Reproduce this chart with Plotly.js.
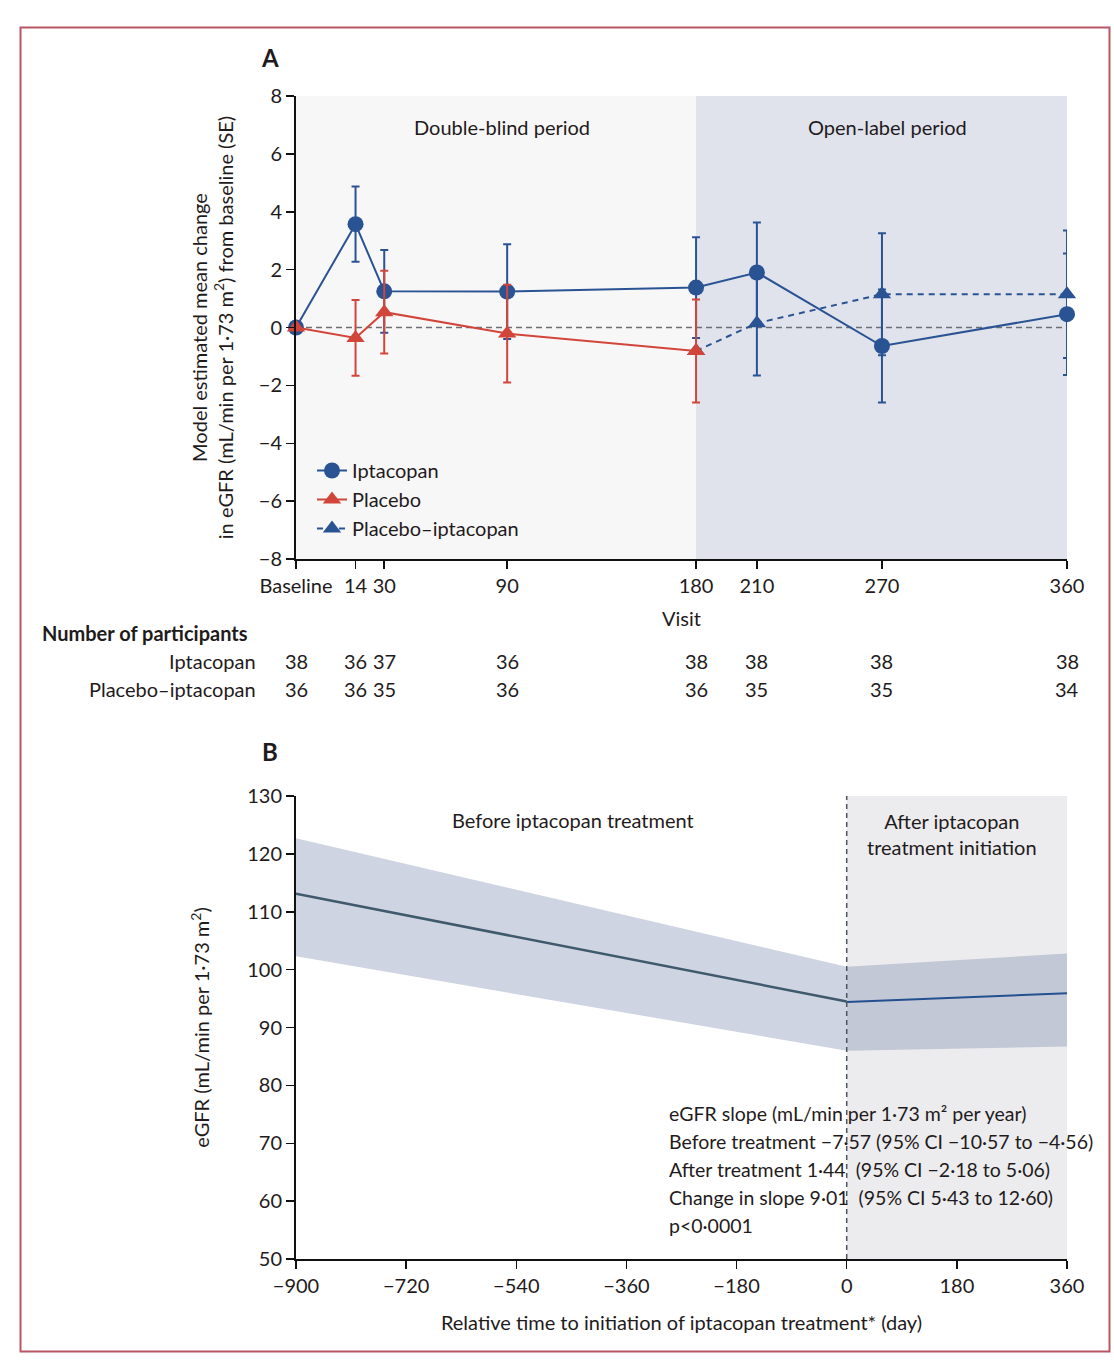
<!DOCTYPE html>
<html>
<head>
<meta charset="utf-8">
<script src="https://cdn.plot.ly/plotly-3.0.1.min.js"></script>
<style>
  html, body { margin: 0; padding: 0; background: #ffffff; }
  #chart { width: 1114px; height: 1372px; }
</style>
</head>
<body>
<div id="chart"></div>
<script>
// ---------- Panel A data ----------
const visitLabels = ['Baseline', '14', '30', '90', '180', '210', '270', '360'];
// horizontal positions of the visits on panel A's axis (as spaced in the original)
const visitPos = [0, 27.8, 41.2, 98.6, 186.8, 215.2, 273.6, 360];

const iptacopanMean = [0, 3.57, 1.25, 1.24, 1.38, 1.90, -0.64, 0.46];
const iptacopanSE   = [0, 1.30, 1.43, 1.64, 1.74, 1.73, 1.95, 2.10];

const placeboIdx  = [0, 1, 2, 3, 4];
const placeboMean = [0, -0.36, 0.53, -0.21, -0.81];
const placeboSE   = [0, 1.31, 1.43, 1.69, 1.78];

const placeboIptIdx  = [4, 5, 6, 7];
const placeboIptMean = [-0.81, 0.15, 1.15, 1.15];
const placeboIptSE   = [0, 1.81, 2.11, 2.20];

const nIptacopan  = [38, 36, 37, 36, 38, 38, 38, 38];
const nPlaceboIpt = [36, 36, 35, 36, 36, 35, 35, 34];

// ---------- Panel B data ----------
const timeBefore  = [-900, 0];
const fitBefore   = [113.1, 94.5];
const upperBefore = [122.7, 100.5];
const lowerBefore = [102.3, 86.0];

const timeAfter  = [0, 360];
const fitAfter   = [94.4, 95.9];
const upperAfter = [100.5, 102.8];
const lowerAfter = [86.0, 86.7];

const statsLines = [
  'eGFR slope (mL/min per 1·73 m² per year)',
  'Before treatment −7·57 (95% CI −10·57 to −4·56)',
  'After treatment 1·44  (95% CI −2·18 to 5·06)',
  'Change in slope 9·01  (95% CI 5·43 to 12·60)',
  'p<0·0001'
];

// ---------- helpers ----------
const W = 1114, H = 1372;
const px = v => v / W;
const py = v => 1 - v / H;
const FONT = 'Lato, "Open Sans", "DejaVu Sans", sans-serif';
const TXT = '#1f1b1c';
const BLUE = '#2a5394';
const RED = '#d1453b';

const pick = (arr, idx) => idx.map(i => arr[i]);

const traces = [
  {
    name: 'Iptacopan', legendrank: 1, x: visitPos, y: iptacopanMean, xaxis: 'x', yaxis: 'y',
    mode: 'lines+markers', type: 'scatter', cliponaxis: false,
    line: { color: BLUE, width: 2 },
    marker: { symbol: 'circle', size: 16, color: BLUE },
    error_y: { type: 'data', array: iptacopanSE, visible: true, color: BLUE, thickness: 2, width: 4 }
  },
  {
    name: 'Placebo–iptacopan', legendrank: 3, x: pick(visitPos, placeboIptIdx), y: placeboIptMean, xaxis: 'x', yaxis: 'y',
    mode: 'lines+markers', type: 'scatter', cliponaxis: false,
    line: { color: BLUE, width: 2, dash: '6px,5px' },
    marker: { symbol: 'triangle-up', size: 16, color: BLUE },
    error_y: { type: 'data', array: placeboIptSE, visible: true, color: BLUE, thickness: 2, width: 4 }
  },
  {
    name: 'Placebo', legendrank: 2, x: pick(visitPos, placeboIdx), y: placeboMean, xaxis: 'x', yaxis: 'y',
    mode: 'lines+markers', type: 'scatter', cliponaxis: false,
    line: { color: RED, width: 2 },
    marker: { symbol: 'triangle-up', size: 16, color: RED },
    error_y: { type: 'data', array: placeboSE, visible: true, color: RED, thickness: 2, width: 4 }
  },
  // Panel B bands
  {
    x: timeBefore.concat(timeBefore.slice().reverse()),
    y: upperBefore.concat(lowerBefore.slice().reverse()),
    xaxis: 'x2', yaxis: 'y2', type: 'scatter', mode: 'lines', fill: 'toself',
    fillcolor: '#cfd4e2', line: { width: 0 }, showlegend: false, hoverinfo: 'skip'
  },
  {
    x: timeAfter.concat(timeAfter.slice().reverse()),
    y: upperAfter.concat(lowerAfter.slice().reverse()),
    xaxis: 'x2', yaxis: 'y2', type: 'scatter', mode: 'lines', fill: 'toself',
    fillcolor: '#c3c8d6', line: { width: 0 }, showlegend: false, hoverinfo: 'skip'
  },
  {
    x: timeBefore, y: fitBefore, xaxis: 'x2', yaxis: 'y2', type: 'scatter', mode: 'lines',
    line: { color: '#3f5a6c', width: 2.5 }, showlegend: false, hoverinfo: 'skip'
  },
  {
    x: timeAfter, y: fitAfter, xaxis: 'x2', yaxis: 'y2', type: 'scatter', mode: 'lines',
    line: { color: '#23508f', width: 2 }, showlegend: false, hoverinfo: 'skip'
  }
];

const axisCommon = {
  showgrid: false, zeroline: false,
  showline: true, linecolor: '#111111', linewidth: 2,
  ticks: 'outside', ticklen: 8, tickwidth: 1.5, tickcolor: '#111111',
  tickfont: { family: FONT, size: 20, color: TXT },
  automargin: false
};

function note(text, x, y, opts) {
  return Object.assign({
    text: text, x: x, y: y, xref: 'paper', yref: 'paper',
    xanchor: 'center', yanchor: 'middle', showarrow: false,
    font: { family: FONT, size: 20, color: TXT }
  }, opts || {});
}

const annotations = [
  note('<b>A</b>', px(270), py(58), { font: { family: FONT, size: 24, color: TXT } }),
  note('<b>B</b>', px(270), py(752), { font: { family: FONT, size: 24, color: TXT } }),
  note('Double-blind period', px(502), py(127)),
  note('Open-label period', px(887), py(127)),
  note('<b>Number of participants</b>', px(40), py(633), { xanchor: 'left' }),
  note('Iptacopan', px(258), py(661), { xanchor: 'right' }),
  note('Placebo–iptacopan', px(258), py(689), { xanchor: 'right' }),
  note('Before iptacopan treatment', px(573), py(820)),
  note('After iptacopan<br>treatment initiation', px(952), py(834), { align: 'center' })
];

visitPos.forEach((p, i) => {
  annotations.push(note(String(nIptacopan[i]), p, py(661), { xref: 'x' }));
  annotations.push(note(String(nPlaceboIpt[i]), p, py(689), { xref: 'x' }));
});

statsLines.forEach((t, i) => {
  annotations.push(note(t, px(667), py(1113 + 28 * i), {
    xanchor: 'left', font: { family: FONT, size: 19.5, color: TXT } }));
});

const shapes = [
  // Panel A background periods
  { type: 'rect', xref: 'x', yref: 'y', x0: visitPos[0], x1: visitPos[4], y0: -8, y1: 8,
    fillcolor: '#f8f7f7', line: { width: 0 }, layer: 'below' },
  { type: 'rect', xref: 'x', yref: 'y', x0: visitPos[4], x1: visitPos[7], y0: -8, y1: 8,
    fillcolor: '#e0e3ec', line: { width: 0 }, layer: 'below' },
  // zero reference line
  { type: 'line', xref: 'x', yref: 'y', x0: visitPos[0], x1: visitPos[7], y0: 0, y1: 0,
    line: { color: '#6b7075', width: 1.5, dash: '6px,4px' }, layer: 'below' },
  // Panel B after-treatment shading
  { type: 'rect', xref: 'x2', yref: 'y2', x0: 0, x1: 360, y0: 50, y1: 130,
    fillcolor: '#ececee', line: { width: 0 }, layer: 'below' },
  // treatment initiation line
  { type: 'line', xref: 'x2', yref: 'y2', x0: 0, x1: 0, y0: 50, y1: 130,
    line: { color: '#4a5560', width: 1.5, dash: '5px,4px' }, layer: 'above' },
  // outer frame
  { type: 'rect', xref: 'paper', yref: 'paper', x0: px(20.5), x1: px(1109.5), y0: py(1351.5), y1: py(27.5),
    line: { color: '#b85666', width: 2 }, fillcolor: 'rgba(0,0,0,0)', layer: 'above' }
];

const layout = {
  width: W, height: H,
  margin: { l: 0, r: 0, t: 0, b: 0 },
  paper_bgcolor: '#ffffff', plot_bgcolor: 'rgba(0,0,0,0)',
  font: { family: FONT, size: 20, color: TXT },
  showlegend: true,
  legend: {
    x: px(312), y: py(451), xanchor: 'left', yanchor: 'top',
    bgcolor: 'rgba(0,0,0,0)', font: { family: FONT, size: 20, color: TXT },
    itemwidth: 30, tracegroupgap: 0, traceorder: 'normal'
  },
  xaxis: Object.assign({}, axisCommon, {
    domain: [px(296), px(1067)], anchor: 'y', range: [0, 360],
    tickmode: 'array', tickvals: visitPos, ticktext: visitLabels,
    title: { text: 'Visit', font: { family: FONT, size: 20, color: TXT }, standoff: 16 }
  }),
  yaxis: Object.assign({}, axisCommon, {
    domain: [py(559), py(96)], anchor: 'x', range: [-8, 8], dtick: 2, tick0: 0,
    title: { text: 'Model estimated mean change<br>in eGFR (mL/min per 1·73 m<sup>2</sup>) from baseline (SE)',
             font: { family: FONT, size: 20, color: TXT }, standoff: 20 }
  }),
  xaxis2: Object.assign({}, axisCommon, {
    domain: [px(296), px(1067)], anchor: 'y2', range: [-900, 360], dtick: 180, tick0: -900,
    title: { text: 'Relative time to initiation of iptacopan treatment* (day)',
             font: { family: FONT, size: 20, color: TXT }, standoff: 20 }
  }),
  yaxis2: Object.assign({}, axisCommon, {
    domain: [py(1259), py(796)], anchor: 'x2', range: [50, 130], dtick: 10, tick0: 50,
    title: { text: 'eGFR (mL/min per 1·73 m<sup>2</sup>)', font: { family: FONT, size: 20, color: TXT }, standoff: 32 }
  }),
  shapes: shapes,
  annotations: annotations
};

Plotly.newPlot('chart', traces, layout, { displayModeBar: false, staticPlot: true });
</script>
</body>
</html>
